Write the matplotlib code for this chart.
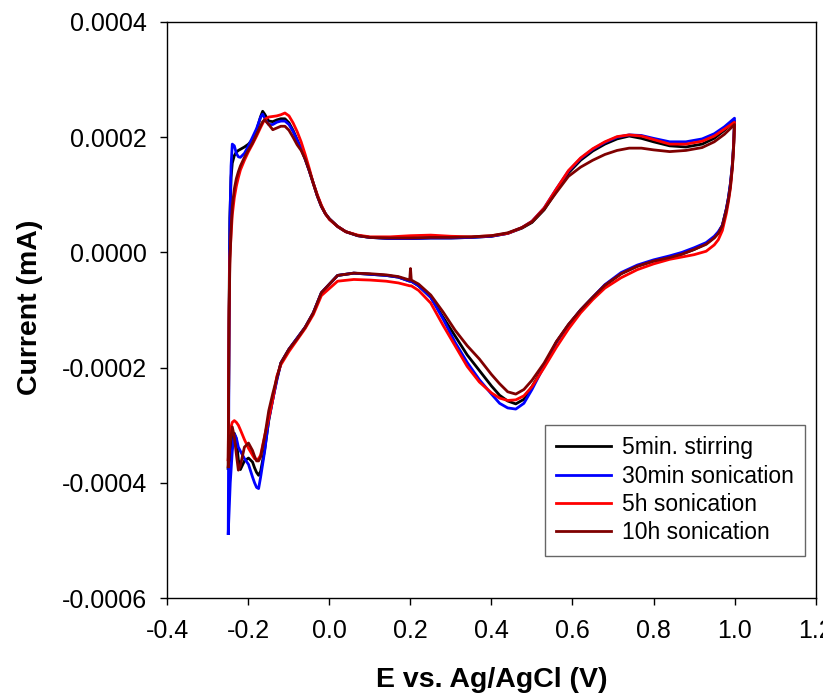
import numpy as np
import matplotlib
matplotlib.use("Agg")
import matplotlib.pyplot as plt

plt.rcParams['font.family'] = ['Liberation Sans', 'DejaVu Sans']
plt.rcParams['axes.unicode_minus'] = False

# Potential grids (V vs Ag/AgCl) for the forward (anodic) and reverse (cathodic) sweep
anodic_E = [-0.250, -0.248, -0.246, -0.243, -0.240, -0.235, -0.230, -0.225, -0.220, -0.210,
            -0.200, -0.190, -0.180, -0.170, -0.165, -0.160, -0.150, -0.140, -0.130, -0.120,
            -0.110, -0.100, -0.090, -0.080, -0.070, -0.060, -0.050, -0.040, -0.030, -0.020,
            -0.010, 0.000, 0.020, 0.040, 0.070, 0.100, 0.150, 0.200, 0.250, 0.300,
            0.350, 0.400, 0.440, 0.475, 0.500, 0.530, 0.560, 0.590, 0.620, 0.650,
            0.680, 0.710, 0.740, 0.770, 0.800, 0.840, 0.880, 0.920, 0.950, 0.975,
            1.000]

cathodic_E = [1.000, 0.998, 0.995, 0.990, 0.985, 0.980, 0.970, 0.960, 0.950, 0.930,
              0.900, 0.870, 0.840, 0.800, 0.760, 0.720, 0.680, 0.650, 0.620, 0.590,
              0.560, 0.530, 0.500, 0.480, 0.460, 0.440, 0.420, 0.400, 0.370, 0.340,
              0.310, 0.280, 0.250, 0.220, 0.202, 0.200, 0.198, 0.170, 0.140, 0.100,
              0.060, 0.020, -0.020, -0.040, -0.060, -0.080, -0.100, -0.120, -0.130, -0.140,
              -0.150, -0.160, -0.170, -0.175, -0.180, -0.185, -0.190, -0.200, -0.210, -0.220,
              -0.225, -0.230, -0.235, -0.240, -0.245, -0.250]

# Currents in units of 1e-4 mA
stir5min_anodic = [-3.75, -1.00, 0.60, 1.30, 1.55, 1.68, 1.74, 1.77, 1.79, 1.83,
                   1.88, 1.96, 2.12, 2.36, 2.45, 2.40, 2.28, 2.27, 2.30, 2.32,
                   2.32, 2.25, 2.12, 1.96, 1.80, 1.62, 1.42, 1.20, 0.98, 0.80,
                   0.67, 0.58, 0.45, 0.36, 0.29, 0.26, 0.24, 0.24, 0.25, 0.25,
                   0.26, 0.28, 0.33, 0.42, 0.52, 0.74, 1.06, 1.38, 1.60, 1.76,
                   1.88, 1.97, 2.02, 1.98, 1.92, 1.85, 1.83, 1.88, 1.98, 2.12,
                   2.28]
stir5min_cathodic = [2.28, 1.90, 1.55, 1.20, 0.95, 0.76, 0.47, 0.34, 0.26, 0.15,
                     0.05, -0.03, -0.09, -0.15, -0.24, -0.37, -0.57, -0.78, -1.00, -1.26,
                     -1.56, -1.97, -2.33, -2.55, -2.63, -2.58, -2.48, -2.32, -2.05, -1.78,
                     -1.45, -1.12, -0.78, -0.58, -0.50, -0.50, -0.50, -0.43, -0.40, -0.38,
                     -0.36, -0.40, -0.70, -1.05, -1.30, -1.49, -1.68, -1.92, -2.20, -2.55,
                     -2.92, -3.42, -3.80, -3.87, -3.82, -3.74, -3.64, -3.57, -3.62, -3.77,
                     -3.60, -3.25, -3.14, -3.22, -3.55, -3.75]

son30min_anodic = [-4.88, -1.50, 0.50, 1.50, 1.88, 1.85, 1.72, 1.66, 1.65, 1.72,
                   1.85, 2.00, 2.15, 2.35, 2.40, 2.33, 2.22, 2.22, 2.26, 2.28,
                   2.28, 2.22, 2.10, 1.95, 1.80, 1.62, 1.42, 1.20, 0.98, 0.80,
                   0.67, 0.58, 0.45, 0.36, 0.29, 0.26, 0.24, 0.24, 0.25, 0.25,
                   0.26, 0.28, 0.33, 0.43, 0.54, 0.77, 1.10, 1.41, 1.63, 1.79,
                   1.91, 2.00, 2.04, 2.03, 1.98, 1.92, 1.92, 1.97, 2.06, 2.18,
                   2.33]
son30min_cathodic = [2.33, 1.90, 1.55, 1.20, 0.95, 0.76, 0.47, 0.36, 0.28, 0.17,
                     0.08, 0.00, -0.06, -0.13, -0.22, -0.35, -0.56, -0.78, -1.00, -1.26,
                     -1.56, -1.97, -2.38, -2.62, -2.72, -2.70, -2.62, -2.46, -2.21, -1.91,
                     -1.56, -1.15, -0.78, -0.58, -0.50, -0.50, -0.50, -0.43, -0.40, -0.38,
                     -0.36, -0.40, -0.70, -1.05, -1.30, -1.49, -1.68, -1.92, -2.22, -2.55,
                     -2.90, -3.45, -3.90, -4.10, -4.08, -4.00, -3.90, -3.68, -3.58, -3.45,
                     -3.38, -3.22, -3.15, -3.45, -4.00, -4.88]

son5h_anodic = [-3.60, -1.00, -0.10, 0.30, 0.65, 0.95, 1.15, 1.30, 1.43, 1.60,
                1.75, 1.88, 2.02, 2.17, 2.24, 2.31, 2.35, 2.36, 2.37, 2.39,
                2.42, 2.37, 2.25, 2.10, 1.92, 1.70, 1.46, 1.20, 1.00, 0.82,
                0.67, 0.57, 0.45, 0.36, 0.30, 0.27, 0.27, 0.29, 0.30, 0.28,
                0.27, 0.29, 0.33, 0.43, 0.54, 0.77, 1.10, 1.42, 1.64, 1.80,
                1.92, 2.01, 2.04, 2.02, 1.96, 1.88, 1.88, 1.93, 2.02, 2.14,
                2.26]
son5h_cathodic = [2.26, 1.85, 1.50, 1.12, 0.88, 0.68, 0.38, 0.22, 0.13, 0.02,
                  -0.04, -0.08, -0.12, -0.20, -0.30, -0.44, -0.62, -0.82, -1.05, -1.33,
                  -1.65, -2.00, -2.33, -2.49, -2.56, -2.57, -2.53, -2.44, -2.25, -1.98,
                  -1.62, -1.26, -0.88, -0.66, -0.58, -0.58, -0.58, -0.53, -0.50, -0.48,
                  -0.47, -0.50, -0.75, -1.08, -1.32, -1.52, -1.72, -1.95, -2.15, -2.55,
                  -2.88, -3.18, -3.52, -3.58, -3.60, -3.58, -3.52, -3.40, -3.25, -3.08,
                  -3.00, -2.95, -2.92, -2.95, -3.08, -3.60]

son10h_anodic = [-3.72, -1.20, -0.20, 0.40, 0.80, 1.10, 1.28, 1.40, 1.50, 1.65,
                 1.78, 1.90, 2.05, 2.20, 2.27, 2.30, 2.22, 2.13, 2.16, 2.19,
                 2.19, 2.12, 2.00, 1.87, 1.77, 1.62, 1.42, 1.20, 0.98, 0.80,
                 0.67, 0.58, 0.45, 0.36, 0.29, 0.26, 0.25, 0.25, 0.26, 0.26,
                 0.27, 0.29, 0.34, 0.43, 0.53, 0.75, 1.04, 1.32, 1.48, 1.60,
                 1.70, 1.77, 1.81, 1.81, 1.78, 1.75, 1.77, 1.82, 1.92, 2.05,
                 2.22]
son10h_cathodic = [2.22, 1.85, 1.50, 1.15, 0.92, 0.74, 0.46, 0.33, 0.25, 0.14,
                   0.05, -0.03, -0.09, -0.15, -0.24, -0.37, -0.57, -0.78, -1.00, -1.25,
                   -1.55, -1.92, -2.22, -2.38, -2.46, -2.42, -2.28, -2.12, -1.85, -1.62,
                   -1.35, -1.03, -0.74, -0.55, -0.48, -0.28, -0.48, -0.42, -0.39, -0.37,
                   -0.36, -0.40, -0.70, -1.05, -1.30, -1.50, -1.68, -1.92, -2.18, -2.45,
                   -2.75, -3.20, -3.55, -3.62, -3.62, -3.54, -3.44, -3.31, -3.38, -3.70,
                   -3.78, -3.50, -3.20, -3.03, -3.30, -3.72]

labels = ['5min. stirring', '30min sonication', '5h sonication', '10h sonication']
colors = ['#000000', '#0000FF', '#FF0000', '#7F0000']

x_ticks = [-0.4, -0.2, 0.0, 0.2, 0.4, 0.6, 0.8, 1.0, 1.2]
x_ticklabels = ['-0.4', '-0.2', '0.0', '0.2', '0.4', '0.6', '0.8', '1.0', '1.2']
y_ticks = [-0.0006, -0.0004, -0.0002, 0.0, 0.0002, 0.0004]
y_ticklabels = ['-0.0006', '-0.0004', '-0.0002', '0.0000', '0.0002', '0.0004']


def main():
    fig = plt.figure(figsize=(8.23, 6.96), dpi=100)
    ax = fig.add_axes([0.2035, 0.1408, 0.7874, 0.8276])

    E = np.array(anodic_E + cathodic_E)
    sweeps = [
        (stir5min_anodic, stir5min_cathodic),
        (son30min_anodic, son30min_cathodic),
        (son5h_anodic, son5h_cathodic),
        (son10h_anodic, son10h_cathodic),
    ]
    for (an, ca), lab, col in zip(sweeps, labels, colors):
        i = np.array(an + ca) * 1e-4
        ax.plot(E, i, color=col, lw=2.0, label=lab, solid_joinstyle='round')

    ax.set_xlim(-0.4, 1.2)
    ax.set_ylim(-0.0006, 0.0004)
    ax.set_xticks(x_ticks)
    ax.set_xticklabels(x_ticklabels)
    ax.set_yticks(y_ticks)
    ax.set_yticklabels(y_ticklabels)
    ax.tick_params(direction='out', length=5, width=1, labelsize=18, pad=10,
                   top=False, right=False)
    for sp in ax.spines.values():
        sp.set_linewidth(1.0)

    ax.set_xlabel('E vs. Ag/AgCl (V)', fontsize=20.5, fontweight='bold')
    ax.set_ylabel('Current (mA)', fontsize=20.5, fontweight='bold')
    ax.xaxis.set_label_coords(0.5, -0.119)
    ax.yaxis.set_label_coords(-0.192, 0.505)

    leg = ax.legend(loc='upper left', bbox_to_anchor=(0.5826, 0.3003), borderaxespad=0,
                    fontsize=16.5, handlelength=2.4, handletextpad=0.45, labelspacing=0.23,
                    borderpad=0.5, fancybox=False, framealpha=1)
    leg.get_frame().set_edgecolor('#666666')
    leg.get_frame().set_linewidth(1.0)

    fig.savefig('out.png', dpi=100)


if __name__ == "__main__":
    main()
